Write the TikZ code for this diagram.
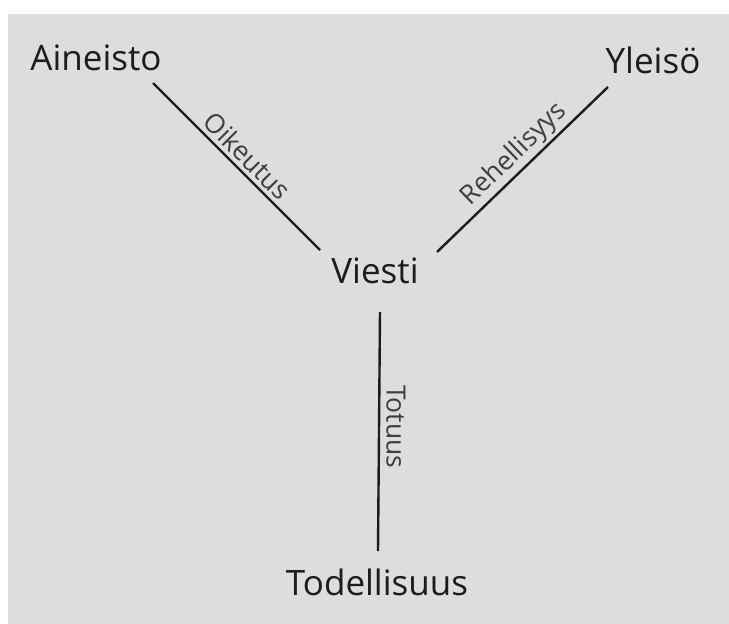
\documentclass[tikz,border=0pt]{standalone}
\usepackage{fontspec}
\setmainfont{Open Sans}
\begin{document}
\begin{tikzpicture}[x=1pt,y=-1pt,
  term/.style={font=\fontsize{35}{40}\selectfont, text=ink, inner sep=0pt},
  rel/.style={font=\fontsize{26.5}{30}\selectfont, text=ink!85, inner sep=4pt},
  conn/.style={draw=ink, line width=2.4pt}]
\definecolor{ink}{RGB}{28,28,28}
\definecolor{screen}{RGB}{221,221,219}
\useasboundingbox (0,0) rectangle (729,624);
\fill[white] (0,0) rectangle (729,624);
\fill[screen] (8,14) rectangle (729,624);
\node[term] (ain) at (96,58) {Aineisto};
\node[term] (yle) at (653,60) {Yleisö};
\node[term] (vie) at (375,271) {Viesti};
\node[term] (tod) at (377,582) {Todellisuus};
\coordinate (a1) at (153,83);
\coordinate (a2) at (320,250);
\coordinate (y1) at (437,252);
\coordinate (y2) at (608,87);
\coordinate (t1) at (380,312);
\coordinate (t2) at (378,551);
\draw[conn] (a1) -- node[rel, sloped, above, pos=0.5] {Oikeutus} (a2);
\draw[conn] (y1) -- node[rel, sloped, above, pos=0.52, inner sep=2pt] {Rehellisyys} (y2);
\draw[conn] (t1) -- node[rel, rotate=-90, anchor=south, pos=0.48, inner sep=6pt] {Totuus} (t2);
\end{tikzpicture}
\end{document}
